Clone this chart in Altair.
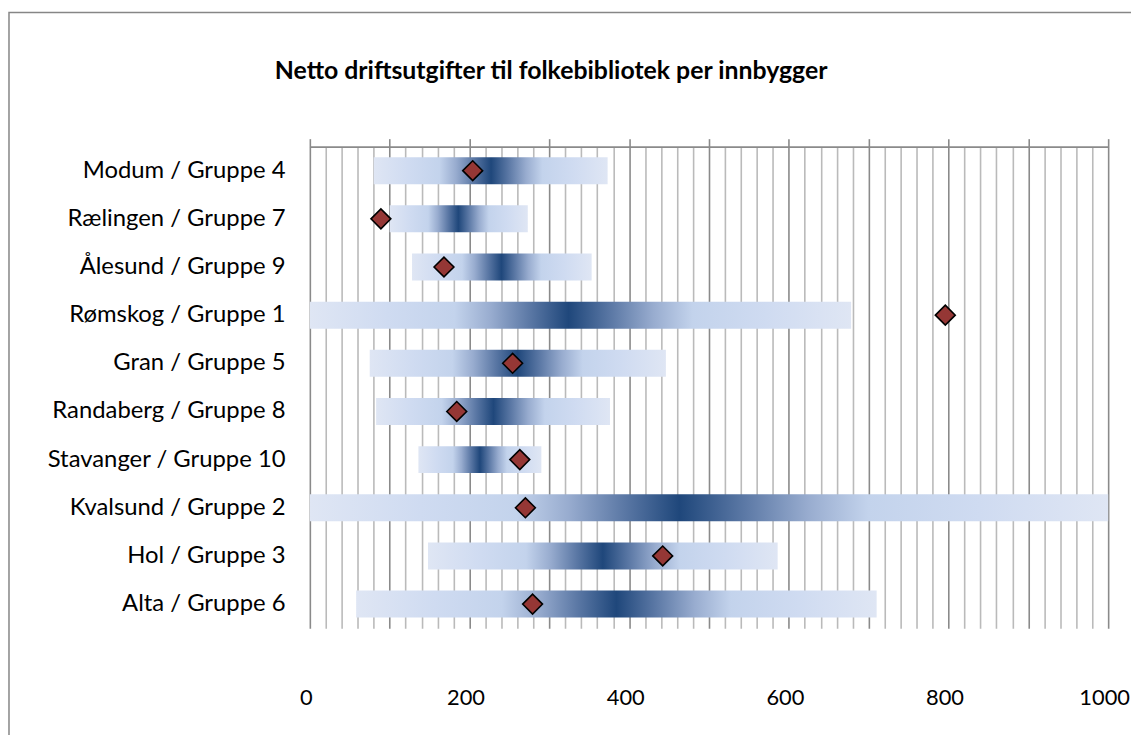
import altair as alt
import pandas as pd

# ---- data ----
names = ["Modum / Gruppe 4", "Rælingen / Gruppe 7", "Ålesund / Gruppe 9", "Rømskog / Gruppe 1",
         "Gran / Gruppe 5", "Randaberg / Gruppe 8", "Stavanger / Gruppe 10", "Kvalsund / Gruppe 2",
         "Hol / Gruppe 3", "Alta / Gruppe 6"]
low = [80, 100, 128, 0, 75, 83, 136, 0, 148, 58]
high = [373, 273, 353, 678, 446, 376, 290, 1000, 586, 710]
peak = [227, 186, 240, 324, 260, 230, 213, 463, 367, 384]
value = [204, 89, 168, 796, 254, 184, 263, 270, 442, 279]
x_ticks = list(range(0, 1001, 20))
top_ticks = list(range(0, 1001, 100))

df = pd.DataFrame({"name": names, "lo": low, "hi": high, "peak": peak, "value": value})

FONT = "Lato"
W, H = 804, 485

xscale = alt.Scale(domain=[0, 1000], nice=False, zero=False)
yscale = alt.Scale(paddingInner=0.44, paddingOuter=0.22)

bottom_axis = alt.Axis(
    values=x_ticks, grid=True, ticks=False, domain=False, title=None, format="d",
    gridColor={"condition": {"test": "datum.value % 100 === 0", "value": "#8a8a8a"}, "value": "#bababa"},
    gridWidth=1.6, gridOpacity=1,
    labelExpr="datum.value % 200 === 0 ? datum.label : ''",
    labelFont=FONT, labelFontSize=22, labelColor="#000000", labelPadding=60, labelOffset=-4,
    labelFlush=False, labelOverlap=False,
)
y_axis = alt.Axis(title=None, ticks=False, domain=False, labelFont=FONT, labelFontSize=24,
                  labelColor="#000000", labelPadding=25, labelLimit=400)
top_axis = alt.Axis(orient="top", values=top_ticks, labels=False, grid=False, title=None,
                    ticks=True, tickSize=8, tickColor="#8a8a8a", tickWidth=1.6,
                    domain=True, domainColor="#8a8a8a", domainWidth=1.6)

END, PLAT1, PLAT2, MID1, MID2, DARK = "#dfe6f4", "#cfdbf1", "#c3d3ec", "#98accf", "#5b78a5", "#1f477b"
fracs = [0.0, 0.3, 0.56, 0.7, 0.85]
cols = [END, PLAT1, PLAT2, MID1, MID2]


def gradient_for(lo, hi, pk):
    c = (pk - lo) / (hi - lo)
    stops = []
    for f, col in zip(fracs, cols):
        stops.append(alt.GradientStop(offset=round(f * c, 4), color=col))
    stops.append(alt.GradientStop(offset=round(c, 4), color=DARK))
    for f, col in reversed(list(zip(fracs, cols))):
        stops.append(alt.GradientStop(offset=round(c + (1 - c) * (1 - f), 4), color=col))
    return alt.Gradient(gradient="linear", x1=0, x2=1, y1=0, y2=0, stops=stops)


base = alt.Chart(df)
layers = []
for i, nm in enumerate(names):
    layer = base.transform_filter(alt.datum.name == nm).mark_bar(
        color=gradient_for(low[i], high[i], peak[i])
    ).encode(
        x=alt.X("lo:Q", scale=xscale, axis=bottom_axis if i == 0 else None),
        x2="hi:Q",
        y=alt.Y("name:N", sort=names, scale=yscale, axis=y_axis),
    )
    layers.append(layer)

points = base.mark_point(shape="diamond", filled=True, color="#953735", stroke="#000000",
                         strokeWidth=1.6, size=400, opacity=1).encode(
    x=alt.X("value:Q", scale=xscale, axis=top_axis),
    y=alt.Y("name:N", sort=names, scale=yscale, axis=y_axis),
)

frame = alt.Chart(alt.Data(values=[{"k": 1}])).mark_rect(
    fill=None, stroke="#868686", strokeWidth=1.5
).encode(
    x=alt.value(-303), x2=alt.value(850), y=alt.value(-135), y2=alt.value(620)
)

chart = alt.layer(frame, *layers, points).resolve_axis(x="independent").properties(
    width=W, height=H,
    padding={"left": 304, "top": 137, "right": 23, "bottom": 105},
    autosize=alt.AutoSizeParams(type="none"),
    background="#ffffff",
    title=alt.TitleParams(
        "Netto driftsutgifter til folkebibliotek  per innbygger",
        font=FONT, fontSize=25, fontWeight="bold", color="#000000",
        anchor="middle", dx=-159, offset=-73,
    ),
).configure_view(stroke=None)

chart.save("out.html", embed_options={"renderer": "svg", "actions": False})
